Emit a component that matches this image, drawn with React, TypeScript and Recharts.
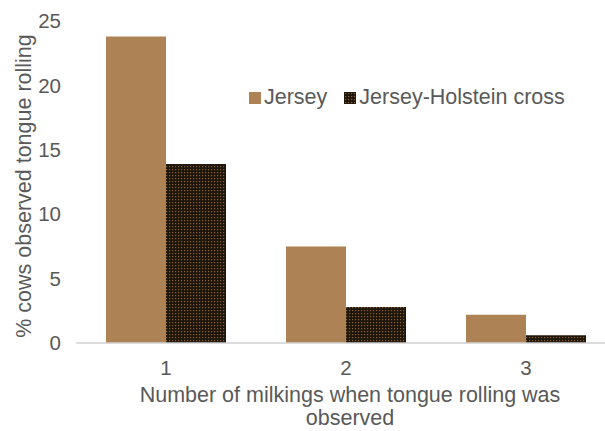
import { BarChart, Bar, XAxis, YAxis, Legend } from "recharts";

const categories = ["1", "2", "3"];
const jersey = [23.8, 7.5, 2.2];
const cross = [13.9, 2.8, 0.6];
const yTicks = [0, 5, 10, 15, 20, 25];

const data = categories.map((c, i) => ({ milkings: c, jersey: jersey[i], cross: cross[i] }));

const grey = "#595959";
const font = "Arial, 'Liberation Sans', sans-serif";

function LegendBox({ payload }: any) {
  return (
    <div style={{ display: "flex", alignItems: "center", fontSize: 21.5, color: grey, fontFamily: font }}>
      {(payload || []).map((p: any, i: number) => (
        <div key={i} style={{ display: "flex", alignItems: "center", marginRight: 17 }}>
          <svg width={12} height={12} style={{ marginRight: 3 }}>
            <rect width={12} height={12} fill={p.color} />
          </svg>
          <span>{p.value}</span>
        </div>
      ))}
    </div>
  );
}

export default function App() {
  return (
    <div style={{ position: "fixed", left: 0, top: 0, width: 605, height: 431, overflow: "hidden", background: "#fff" }}>
      <BarChart
        width={616}
        height={431}
        data={data}
        margin={{ top: 21, right: 0, left: 0, bottom: 0 }}
        barCategoryGap={30}
        barGap={0}
        style={{ fontFamily: font }}
      >
        <defs>
          <pattern id="dots" width="3" height="3" patternUnits="userSpaceOnUse">
            <rect width="3" height="3" fill="#1e150b" />
            <rect x="1" y="1" width="1.2" height="1.2" fill="#8a5f2c" />
          </pattern>
        </defs>
        <XAxis
          dataKey="milkings"
          height={88}
          tickLine={false}
          axisLine={{ stroke: "#d0d0d0", strokeWidth: 1.5 }}
          tick={{ fill: grey, fontSize: 20.5 }}
          tickMargin={11}
          label={{
            content: () => (
              <text textAnchor="middle" fill={grey} fontSize={21.5} fontFamily={font}>
                <tspan x={350} y={402}>Number of milkings when tongue rolling was</tspan>
                <tspan x={350} y={425}>observed</tspan>
              </text>
            ),
          }}
        />
        <YAxis
          width={76}
          domain={[0, 25]}
          ticks={yTicks}
          axisLine={false}
          tickLine={false}
          tick={{ fill: grey, fontSize: 20.5 }}
          tickMargin={9}
          label={{
            content: () => (
              <text
                x={24}
                y={186}
                transform="rotate(-90, 24, 186)"
                textAnchor="middle"
                dominantBaseline="central"
                fill={grey}
                fontSize={21.5}
                fontFamily={font}
              >
                % cows observed tongue rolling
              </text>
            ),
          }}
        />
        <Legend
          layout="horizontal"
          verticalAlign="middle"
          align="center"
          content={<LegendBox />}
          wrapperStyle={{ left: 249, top: 85, width: 360 }}
        />
        <Bar dataKey="jersey" name="Jersey" fill="#ad8355" isAnimationActive={false} />
        <Bar dataKey="cross" name="Jersey-Holstein cross" fill="url(#dots)" isAnimationActive={false} />
      </BarChart>
    </div>
  );
}
